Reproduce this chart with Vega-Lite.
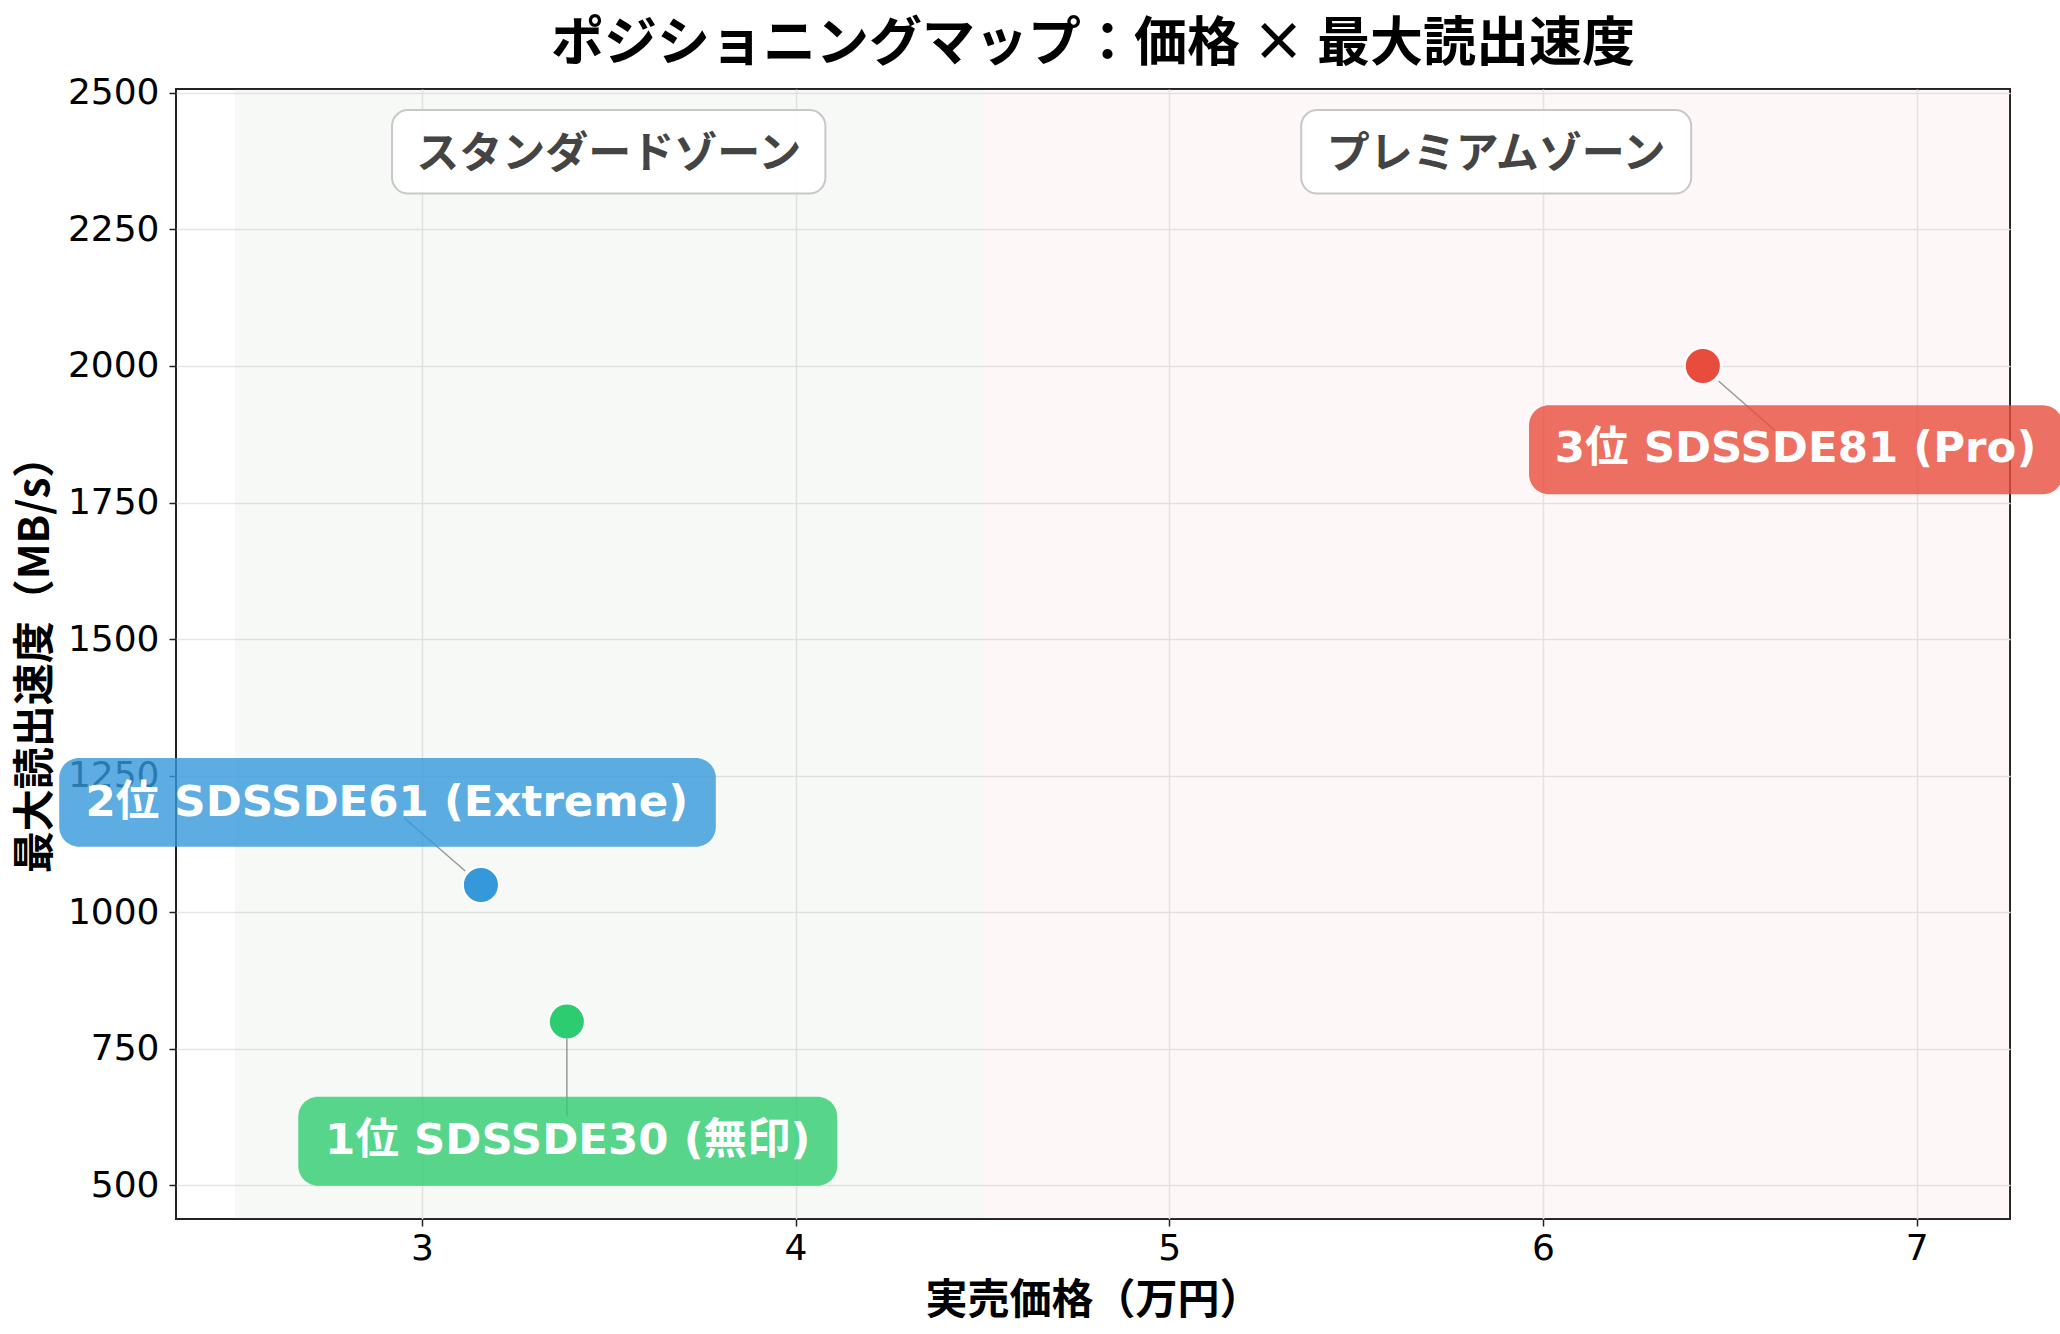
{
  "$schema": "https://vega.github.io/schema/vega-lite/v6.json",
  "width": 1834,
  "height": 1130,
  "autosize": {"type": "none"},
  "padding": {"left": 176, "top": 89, "right": 50, "bottom": 115},
  "background": "white",
  "title": {
    "text": "ポジショニングマップ：価格 × 最大読出速度",
    "font": "Noto Sans CJK JP",
    "fontSize": 53,
    "fontWeight": "bold",
    "color": "#000000",
    "anchor": "middle",
    "frame": "group",
    "baseline": "middle",
    "offset": -23
  },
  "config": {
    "view": {"stroke": "#222222", "strokeWidth": 2},
    "axis": {
      "domain": false,
      "grid": true,
      "gridColor": "#e6e6e6",
      "gridWidth": 1.5,
      "tickColor": "#222222",
      "tickSize": 7,
      "tickWidth": 1.5,
      "labelFont": "DejaVu Sans",
      "labelFontSize": 36,
      "labelColor": "#000000",
      "titleFont": "Noto Sans CJK JP",
      "titleFontSize": 42,
      "titleFontWeight": "bold",
      "titleColor": "#000000",
      "labelOverlap": false,
      "labelFlush": false
    },
    "axisX": {"labelPadding": 5, "titleBaseline": "middle", "titleY": 81, "titleAnchor": "middle"},
    "axisY": {"labelPadding": 10, "titleBaseline": "middle", "titleAngle": -90, "titleX": -141, "titleY": 565}
  },
  "datasets": {
    "products": [
      {"rank": 1, "name": "SDSSDE30", "label": "1位 SDSSDE30 (無印)", "price": 3.388, "speed": 800},
      {"rank": 2, "name": "SDSSDE61", "label": "2位 SDSSDE61 (Extreme)", "price": 3.158, "speed": 1050},
      {"rank": 3, "name": "SDSSDE81", "label": "3位 SDSSDE81 (Pro)", "price": 6.428, "speed": 2000}
    ],
    "zones": [
      {"zone": "スタンダードゾーン", "start": 2.5, "end": 4.5, "center": 3.5},
      {"zone": "プレミアムゾーン", "start": 4.5, "end": 8, "center": 5.875}
    ]
  },
  "layer": [
    {
      "data": {"name": "zones"},
      "mark": {"type": "rect", "clip": true},
      "encoding": {
        "x": {"field": "start", "type": "quantitative", "title": "実売価格（万円）",
              "scale": {"domain": [2.342, 7.25], "nice": false, "zero": false},
              "axis": {"values": [3, 4, 5, 6, 7], "format": "d"}},
        "x2": {"field": "end"},
        "color": {"field": "zone", "type": "nominal", "legend": null,
                  "scale": {"domain": ["スタンダードゾーン", "プレミアムゾーン"], "range": ["#9fb89f", "#e8a3a3"]}},
        "opacity": {"value": 0.09}
      }
    },
    {
      "data": {"name": "zones"},
      "transform": [{"filter": "datum.zone == 'スタンダードゾーン'"}],
      "mark": {"type": "rect", "fill": "white", "fillOpacity": 0.92, "stroke": "#c8c8c8", "strokeWidth": 2,
               "cornerRadius": 16, "xOffset": -216.7, "x2Offset": 216.7, "yOffset": -41.7, "y2Offset": 41.7},
      "encoding": {
        "x": {"field": "center", "type": "quantitative", "title": "実売価格（万円）"},
        "x2": {"field": "center"},
        "y": {"datum": 2392, "type": "quantitative", "title": "最大読出速度（MB/s）",
              "scale": {"domain": [438.5, 2507], "nice": false, "zero": false},
              "axis": {"values": [500, 750, 1000, 1250, 1500, 1750, 2000, 2250, 2500], "format": "d"}},
        "y2": {"datum": 2392}
      }
    },
    {
      "data": {"name": "zones"},
      "transform": [{"filter": "datum.zone == 'プレミアムゾーン'"}],
      "mark": {"type": "rect", "fill": "white", "fillOpacity": 0.92, "stroke": "#c8c8c8", "strokeWidth": 2,
               "cornerRadius": 16, "xOffset": -195, "x2Offset": 195, "yOffset": -41.7, "y2Offset": 41.7},
      "encoding": {
        "x": {"field": "center", "type": "quantitative", "title": "実売価格（万円）"},
        "x2": {"field": "center"},
        "y": {"datum": 2392, "type": "quantitative", "title": "最大読出速度（MB/s）"},
        "y2": {"datum": 2392}
      }
    },
    {
      "data": {"name": "zones"},
      "mark": {"type": "text", "font": "Noto Sans CJK JP", "fontSize": 43, "fontWeight": "bold",
               "color": "#444444", "align": "center", "baseline": "middle", "dy": 3},
      "encoding": {
        "x": {"field": "center", "type": "quantitative", "title": "実売価格（万円）"},
        "y": {"datum": 2392, "type": "quantitative", "title": "最大読出速度（MB/s）"},
        "text": {"field": "zone"}
      }
    },
    {
      "data": {"name": "products"},
      "mark": {"type": "point", "shape": "circle", "filled": true, "size": 1300, "stroke": "white", "strokeWidth": 2, "opacity": 1},
      "encoding": {
        "x": {"field": "price", "type": "quantitative", "title": "実売価格（万円）"},
        "y": {"field": "speed", "type": "quantitative", "title": "最大読出速度（MB/s）"},
        "fill": {"field": "name", "type": "nominal", "legend": null,
                 "scale": {"domain": ["SDSSDE30", "SDSSDE61", "SDSSDE81"], "range": ["#2ECC71", "#3498DB", "#E74C3C"]}}
      }
    },
    {
      "data": {"name": "products"},
      "transform": [{"filter": "datum.rank == 2"}],
      "layer": [
        {"mark": {"type": "rule", "color": "#808080", "strokeWidth": 1.5, "opacity": 0.8,
                  "xOffset": -15.7, "yOffset": -14, "x2Offset": -76.7, "y2Offset": -67},
         "encoding": {"x": {"field": "price", "type": "quantitative", "title": "実売価格（万円）"}, "x2": {"field": "price"},
                      "y": {"field": "speed", "type": "quantitative", "title": "最大読出速度（MB/s）"}, "y2": {"field": "speed"}}},
        {"mark": {"type": "rect", "cornerRadius": 20, "fillOpacity": 0.8,
                  "xOffset": -421.7, "x2Offset": 234.9, "yOffset": -127, "y2Offset": -38.3},
         "encoding": {"x": {"field": "price", "type": "quantitative", "title": "実売価格（万円）"}, "x2": {"field": "price"},
                      "y": {"field": "speed", "type": "quantitative", "title": "最大読出速度（MB/s）"}, "y2": {"field": "speed"},
                      "fill": {"field": "name", "type": "nominal", "legend": null}}},
        {"mark": {"type": "text", "font": "DejaVu Sans, Noto Sans CJK JP", "fontSize": 43.5, "fontWeight": "bold",
                  "color": "white", "align": "center", "baseline": "middle", "dx": -94.2, "dy": -82.2},
         "encoding": {"x": {"field": "price", "type": "quantitative", "title": "実売価格（万円）"},
                      "y": {"field": "speed", "type": "quantitative", "title": "最大読出速度（MB/s）"},
                      "text": {"field": "label"}}}
      ]
    },
    {
      "data": {"name": "products"},
      "transform": [{"filter": "datum.rank == 3"}],
      "layer": [
        {"mark": {"type": "rule", "color": "#808080", "strokeWidth": 1.5, "opacity": 0.8,
                  "xOffset": 15.7, "yOffset": 15, "x2Offset": 72.7, "y2Offset": 65},
         "encoding": {"x": {"field": "price", "type": "quantitative", "title": "実売価格（万円）"}, "x2": {"field": "price"},
                      "y": {"field": "speed", "type": "quantitative", "title": "最大読出速度（MB/s）"}, "y2": {"field": "speed"}}},
        {"mark": {"type": "rect", "cornerRadius": 20, "fillOpacity": 0.8,
                  "xOffset": -173.8, "x2Offset": 360, "yOffset": 39.3, "y2Offset": 128.3},
         "encoding": {"x": {"field": "price", "type": "quantitative", "title": "実売価格（万円）"}, "x2": {"field": "price"},
                      "y": {"field": "speed", "type": "quantitative", "title": "最大読出速度（MB/s）"}, "y2": {"field": "speed"},
                      "fill": {"field": "name", "type": "nominal", "legend": null}}},
        {"mark": {"type": "text", "font": "DejaVu Sans, Noto Sans CJK JP", "fontSize": 43.5, "fontWeight": "bold",
                  "color": "white", "align": "center", "baseline": "middle", "dx": 92.7, "dy": 83.3},
         "encoding": {"x": {"field": "price", "type": "quantitative", "title": "実売価格（万円）"},
                      "y": {"field": "speed", "type": "quantitative", "title": "最大読出速度（MB/s）"},
                      "text": {"field": "label"}}}
      ]
    },
    {
      "data": {"name": "products"},
      "transform": [{"filter": "datum.rank == 1"}],
      "layer": [
        {"mark": {"type": "rule", "color": "#808080", "strokeWidth": 1.5, "opacity": 0.8,
                  "xOffset": 0, "yOffset": 17, "x2Offset": 0, "y2Offset": 95},
         "encoding": {"x": {"field": "price", "type": "quantitative", "title": "実売価格（万円）"}, "x2": {"field": "price"},
                      "y": {"field": "speed", "type": "quantitative", "title": "最大読出速度（MB/s）"}, "y2": {"field": "speed"}}},
        {"mark": {"type": "rect", "cornerRadius": 20, "fillOpacity": 0.8,
                  "xOffset": -268.6, "x2Offset": 270.4, "yOffset": 75.2, "y2Offset": 164.2},
         "encoding": {"x": {"field": "price", "type": "quantitative", "title": "実売価格（万円）"}, "x2": {"field": "price"},
                      "y": {"field": "speed", "type": "quantitative", "title": "最大読出速度（MB/s）"}, "y2": {"field": "speed"},
                      "fill": {"field": "name", "type": "nominal", "legend": null}}},
        {"mark": {"type": "text", "font": "DejaVu Sans, Noto Sans CJK JP", "fontSize": 43.5, "fontWeight": "bold",
                  "color": "white", "align": "center", "baseline": "middle", "dx": 0.9, "dy": 119.5},
         "encoding": {"x": {"field": "price", "type": "quantitative", "title": "実売価格（万円）"},
                      "y": {"field": "speed", "type": "quantitative", "title": "最大読出速度（MB/s）"},
                      "text": {"field": "label"}}}
      ]
    }
  ]
}
